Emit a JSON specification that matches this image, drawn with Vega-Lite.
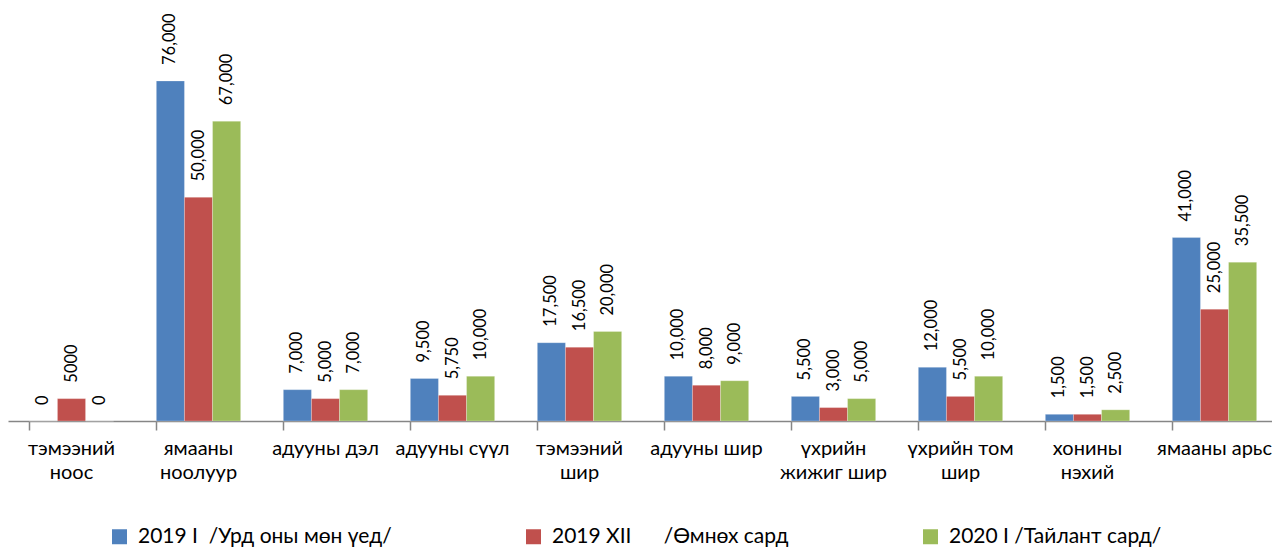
{
  "$schema": "https://vega.github.io/schema/vega-lite/v6.json",
  "width": 1270,
  "height": 421,
  "autosize": {"type": "none"},
  "padding": {"left": 8, "top": 0, "right": 0, "bottom": 128},
  "background": "white",
  "config": {"view": {"stroke": null}, "font": "Lato"},
  "data": {
    "values": [
      {"cat": "тэмээний|ноос", "series": "2019 I\u00a0\u00a0/Урд оны мөн үед/", "v": 0, "label": "0"},
      {"cat": "тэмээний|ноос", "series": "2019 XII\u00a0\u00a0\u00a0\u00a0\u00a0\u00a0/Өмнөх сард", "v": 5000, "label": "5000"},
      {"cat": "тэмээний|ноос", "series": "2020 I /Тайлант сард/", "v": 0, "label": "0"},
      {"cat": "ямааны|ноолуур", "series": "2019 I\u00a0\u00a0/Урд оны мөн үед/", "v": 76000, "label": "76,000"},
      {"cat": "ямааны|ноолуур", "series": "2019 XII\u00a0\u00a0\u00a0\u00a0\u00a0\u00a0/Өмнөх сард", "v": 50000, "label": "50,000"},
      {"cat": "ямааны|ноолуур", "series": "2020 I /Тайлант сард/", "v": 67000, "label": "67,000"},
      {"cat": "адууны дэл", "series": "2019 I\u00a0\u00a0/Урд оны мөн үед/", "v": 7000, "label": "7,000"},
      {"cat": "адууны дэл", "series": "2019 XII\u00a0\u00a0\u00a0\u00a0\u00a0\u00a0/Өмнөх сард", "v": 5000, "label": "5,000"},
      {"cat": "адууны дэл", "series": "2020 I /Тайлант сард/", "v": 7000, "label": "7,000"},
      {"cat": "адууны сүүл", "series": "2019 I\u00a0\u00a0/Урд оны мөн үед/", "v": 9500, "label": "9,500"},
      {"cat": "адууны сүүл", "series": "2019 XII\u00a0\u00a0\u00a0\u00a0\u00a0\u00a0/Өмнөх сард", "v": 5750, "label": "5,750"},
      {"cat": "адууны сүүл", "series": "2020 I /Тайлант сард/", "v": 10000, "label": "10,000"},
      {"cat": "тэмээний|шир", "series": "2019 I\u00a0\u00a0/Урд оны мөн үед/", "v": 17500, "label": "17,500"},
      {"cat": "тэмээний|шир", "series": "2019 XII\u00a0\u00a0\u00a0\u00a0\u00a0\u00a0/Өмнөх сард", "v": 16500, "label": "16,500"},
      {"cat": "тэмээний|шир", "series": "2020 I /Тайлант сард/", "v": 20000, "label": "20,000"},
      {"cat": "адууны шир", "series": "2019 I\u00a0\u00a0/Урд оны мөн үед/", "v": 10000, "label": "10,000"},
      {"cat": "адууны шир", "series": "2019 XII\u00a0\u00a0\u00a0\u00a0\u00a0\u00a0/Өмнөх сард", "v": 8000, "label": "8,000"},
      {"cat": "адууны шир", "series": "2020 I /Тайлант сард/", "v": 9000, "label": "9,000"},
      {"cat": "үхрийн|жижиг шир", "series": "2019 I\u00a0\u00a0/Урд оны мөн үед/", "v": 5500, "label": "5,500"},
      {"cat": "үхрийн|жижиг шир", "series": "2019 XII\u00a0\u00a0\u00a0\u00a0\u00a0\u00a0/Өмнөх сард", "v": 3000, "label": "3,000"},
      {"cat": "үхрийн|жижиг шир", "series": "2020 I /Тайлант сард/", "v": 5000, "label": "5,000"},
      {"cat": "үхрийн том|шир", "series": "2019 I\u00a0\u00a0/Урд оны мөн үед/", "v": 12000, "label": "12,000"},
      {"cat": "үхрийн том|шир", "series": "2019 XII\u00a0\u00a0\u00a0\u00a0\u00a0\u00a0/Өмнөх сард", "v": 5500, "label": "5,500"},
      {"cat": "үхрийн том|шир", "series": "2020 I /Тайлант сард/", "v": 10000, "label": "10,000"},
      {"cat": "хонины|нэхий", "series": "2019 I\u00a0\u00a0/Урд оны мөн үед/", "v": 1500, "label": "1,500"},
      {"cat": "хонины|нэхий", "series": "2019 XII\u00a0\u00a0\u00a0\u00a0\u00a0\u00a0/Өмнөх сард", "v": 1500, "label": "1,500"},
      {"cat": "хонины|нэхий", "series": "2020 I /Тайлант сард/", "v": 2500, "label": "2,500"},
      {"cat": "ямааны арьс", "series": "2019 I\u00a0\u00a0/Урд оны мөн үед/", "v": 41000, "label": "41,000"},
      {"cat": "ямааны арьс", "series": "2019 XII\u00a0\u00a0\u00a0\u00a0\u00a0\u00a0/Өмнөх сард", "v": 25000, "label": "25,000"},
      {"cat": "ямааны арьс", "series": "2020 I /Тайлант сард/", "v": 35500, "label": "35,500"}
    ]
  },
  "encoding": {
    "x": {
      "field": "cat",
      "type": "nominal",
      "sort": null,
      "scale": {"paddingInner": 0.336, "paddingOuter": 0.168},
      "axis": {
        "title": null,
        "labelAngle": 0,
        "labelExpr": "split(datum.label, '|')",
        "labelFont": "Lato",
        "labelFontSize": 20,
        "labelColor": "#000000",
        "labelLineHeight": 24,
        "labelPadding": 8,
        "labelOverlap": false,
        "labelLimit": 200,
        "bandPosition": 0,
        "tickSize": 9,
        "tickColor": "#868686",
        "domainColor": "#868686",
        "tickWidth": 1.5,
        "domainWidth": 1.5,
        "grid": false
      }
    },
    "xOffset": {
      "field": "series",
      "type": "nominal",
      "sort": null,
      "scale": {"paddingInner": 0, "paddingOuter": 0}
    },
    "y": {
      "field": "v",
      "type": "quantitative",
      "scale": {"domain": [0, 94100], "nice": false},
      "axis": null
    }
  },
  "layer": [
    {
      "mark": {"type": "bar", "stroke": "#ffffff", "strokeWidth": 0.5, "strokeOpacity": 0.5},
      "encoding": {
        "color": {
          "field": "series",
          "type": "nominal",
          "sort": null,
          "scale": {"range": ["#4F81BD", "#C0504D", "#9BBB59"]},
          "legend": {
            "title": null,
            "orient": "none",
            "legendX": 101,
            "legendY": 526,
            "direction": "horizontal",
            "symbolType": "square",
            "symbolSize": 225,
            "symbolStrokeWidth": 0,
            "labelOffset": 8,
            "labelFont": "Lato",
            "labelFontSize": 21,
            "labelColor": "#000000",
            "labelLimit": 400,
            "columnPadding": 131
          }
        }
      }
    },
    {
      "mark": {
        "type": "text",
        "angle": 270,
        "align": "left",
        "baseline": "middle",
        "dx": 16,
        "font": "Lato",
        "fontSize": 16.5,
        "color": "#000000"
      },
      "encoding": {"text": {"field": "label"}}
    }
  ]
}
